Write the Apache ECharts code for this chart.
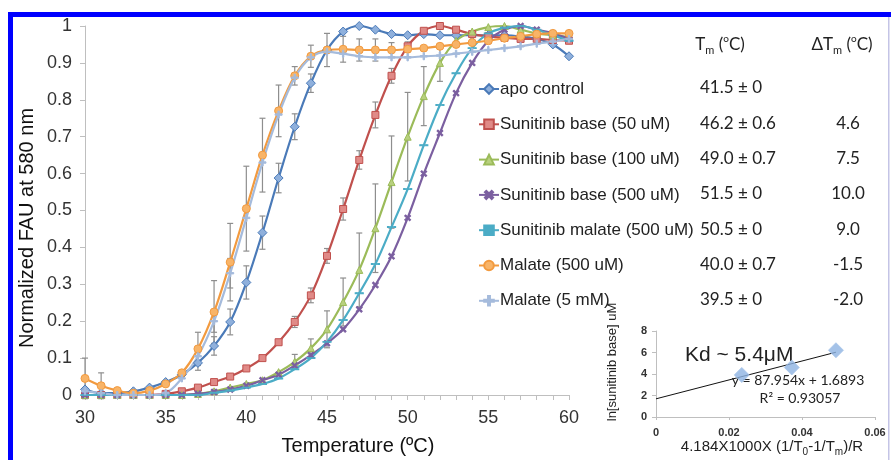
<!DOCTYPE html>
<html>
<head>
<meta charset="utf-8">
<script src="https://cdn.jsdelivr.net/npm/echarts@6/dist/echarts.min.js"></script>
<style>
  html, body { margin: 0; padding: 0; background: #fff; }
  #main { width: 891px; height: 460px; }
</style>
</head>
<body>
<div id="main"></div>
<script>
// temperatures (ºC)
const temps = [30,31,32,33,34,35,36,37,38,39,40,41,42,43,44,45,46,47,48,49,50,51,52,53,54,55,56,57,58,59,60];

// normalized FAU
const apoVals    = [0.015,0.005,0.005,0.01,0.02,0.035,0.055,0.087,0.133,0.198,0.305,0.44,0.588,0.727,0.845,0.935,0.985,1.0,0.99,0.978,0.975,0.978,0.975,0.975,0.975,0.975,0.975,0.972,0.965,0.95,0.918];
const base50     = [0,0,0,0,0,0.003,0.01,0.02,0.035,0.05,0.072,0.1,0.143,0.198,0.27,0.377,0.504,0.637,0.759,0.865,0.945,0.987,1.0,0.99,0.978,0.972,0.968,0.965,0.965,0.962,0.96];
const base100    = [0,0,0,0,0,0,0,0.003,0.01,0.02,0.03,0.04,0.062,0.09,0.127,0.178,0.252,0.339,0.452,0.577,0.70,0.81,0.9,0.96,0.985,0.997,1.0,0.99,0.98,0.975,0.97];
const base500    = [0,0,0,0,0,0,0,0.003,0.008,0.015,0.025,0.04,0.055,0.08,0.108,0.14,0.178,0.232,0.298,0.376,0.48,0.6,0.71,0.818,0.9,0.96,0.99,1.0,0.99,0.98,0.965];
const malate500u = [0,0,0,0,0,0,0,0,0.006,0.012,0.02,0.03,0.045,0.07,0.1,0.144,0.203,0.276,0.355,0.455,0.558,0.677,0.786,0.872,0.94,0.98,0.995,1.0,0.99,0.975,0.96];
const mal500     = [0.045,0.025,0.012,0.005,0.012,0.03,0.06,0.125,0.225,0.36,0.505,0.65,0.77,0.865,0.918,0.935,0.937,0.935,0.935,0.935,0.937,0.94,0.945,0.95,0.955,0.96,0.967,0.972,0.978,0.98,0.98];
const mal5mM     = [0.01,0.005,0,0,0,0.005,0.045,0.105,0.2,0.33,0.48,0.63,0.76,0.86,0.915,0.93,0.925,0.918,0.915,0.915,0.915,0.918,0.92,0.925,0.93,0.935,0.94,0.945,0.952,0.958,0.965];

// error bars (± value, null = none)
const apoErr  = [null,null,null,null,null,null,null,0.02,0.025,0.035,0.045,0.045,0.04,0.035,0.025,null,null,null,null,null,null,null,null,null,null,null,null,null,null,null,null];
const b50Err  = [null,null,null,null,null,null,null,null,null,null,null,null,null,0.015,0.02,0.02,0.03,0.025,0.035,0.02,null,null,null,null,null,null,null,null,null,null,null];
const b100Err = [null,null,null,null,null,null,null,null,null,null,null,null,null,0.02,0.025,0.05,0.065,0.1,0.12,0.125,0.12,0.08,0.05,null,null,null,null,null,null,null,null];
const m500Err = [0.055,0.035,null,null,null,null,null,0.045,0.085,0.105,0.115,0.1,0.07,0.025,0.03,0.045,0.035,0.03,0.03,0.02,0.02,null,null,null,null,null,null,null,null,null,null];
const m5Err   = [null,null,null,null,null,null,null,null,0.03,0.04,null,null,null,null,null,null,null,null,null,null,null,null,null,null,null,null,null,null,null,null,null];

const names = ['apo control','Sunitinib base (50 uM)','Sunitinib base (100 uM)','Sunitinib base (500 uM)','Sunitinib malate (500 uM)','Malate (500 uM)','Malate (5 mM)'];
const tmText  = ['41.5 ± 0','46.2 ± 0.6','49.0 ± 0.7','51.5 ± 0','50.5 ± 0','40.0 ± 0.7','39.5 ± 0'];
const dTmText = ['','4.6','7.5','10.0','9.0','-1.5','-2.0'];

// inset: ln[sunitinib base] vs 4.184x1000x(1/T0-1/Tm)/R
const insetX = [0.0235, 0.0372, 0.0493];
const insetY = [3.91, 4.61, 6.21];
const fitSlope = 87.954;
const fitIntercept = 1.6893;

const plusPath = 'path://M4,0h2v4h4v2h-4v4h-2v-4h-4v-2h4z';
const dashPath = 'path://M0,0h10v2h-10z';

var chart = echarts.init(document.getElementById('main'));

var fontA = 'Liberation Sans, Arial, sans-serif';
var fontC = 'Lato, Carlito, sans-serif';

function mkLine(name, vals, color, symbol, size, fill, extra) {
  return Object.assign({
    name: name,
    type: 'line',
    xAxisIndex: 0,
    yAxisIndex: 0,
    smooth: 0.35,
    clip: false,
    data: temps.map((t, i) => [t, vals[i]]),
    symbol: symbol,
    symbolSize: size,
    showAllSymbol: true,
    lineStyle: { color: color, width: 2.2 },
    itemStyle: { color: fill, borderColor: color, borderWidth: 1 },
    emphasis: { disabled: true },
    z: 3
  }, extra || {});
}

function errData(vals, errs) {
  return temps.map((t, i) => errs[i] == null ? null : [t, vals[i], errs[i]]).filter(d => d);
}

function errRender(params, api) {
  var x = api.value(0), y = api.value(1), e = api.value(2);
  var top = api.coord([x, y + e]);
  var bot = api.coord([x, y - e]);
  var w = 3;
  var st = { stroke: '#8e8e8e', lineWidth: 1.2 };
  return {
    type: 'group',
    children: [
      { type: 'line', shape: { x1: top[0], y1: top[1], x2: bot[0], y2: bot[1] }, style: st },
      { type: 'line', shape: { x1: top[0] - w, y1: top[1], x2: top[0] + w, y2: top[1] }, style: st },
      { type: 'line', shape: { x1: bot[0] - w, y1: bot[1], x2: bot[0] + w, y2: bot[1] }, style: st }
    ]
  };
}

function errSeries(vals, errs) {
  return {
    type: 'custom',
    xAxisIndex: 0,
    yAxisIndex: 0,
    renderItem: errRender,
    data: errData(vals, errs),
    encode: { x: 0, y: 1 },
    clip: false,
    silent: true,
    z: 2
  };
}

// table (Tm / ΔTm) next to the legend
var rowY0 = 88, rowGap = 35.3;
var tableTexts = [];
tmText.forEach(function (t, i) {
  tableTexts.push({ type: 'text', x: 700, y: rowY0 + i * rowGap,
    style: { text: t, font: '17px ' + fontC, fill: '#222', verticalAlign: 'middle' } });
  tableTexts.push({ type: 'text', x: 848, y: rowY0 + i * rowGap,
    style: { text: dTmText[i], font: '17px ' + fontC, fill: '#222', align: 'center', verticalAlign: 'middle' } });
});

var rich = {
  n: { fontSize: 17, fontFamily: fontC, lineHeight: 22, verticalAlign: 'middle', fill: '#222' },
  s: { fontSize: 11, fontFamily: fontC, verticalAlign: 'bottom', fill: '#222' },
  p: { fontSize: 10, fontFamily: fontC, verticalAlign: 'top', fill: '#222' }
};
var rich2 = {
  n: { fontSize: 15, fontFamily: fontA, lineHeight: 20, verticalAlign: 'middle', fill: '#222' },
  s: { fontSize: 10, fontFamily: fontA, verticalAlign: 'bottom', fill: '#222' }
};

var option = {
  backgroundColor: '#fff',
  animation: false,
  grid: [
    { left: 85, right: 322, top: 26, bottom: 65 },
    { left: 656, right: 16, top: 331, bottom: 43 }
  ],
  legend: {
    data: names,
    orient: 'vertical',
    left: 473,
    top: 75,
    itemWidth: 20,
    itemHeight: 12,
    itemGap: 17.3,
    textStyle: { fontFamily: fontA, fontSize: 17, lineHeight: 18, color: '#222', padding: [0, 0, 0, -4] },
    selectedMode: false
  },
  xAxis: [
    {
      type: 'value', gridIndex: 0, min: 30, max: 60, interval: 5,
      axisLine: { show: true, lineStyle: { color: '#bfbfbf', width: 1 } },
      axisTick: { show: true, length: 5, lineStyle: { color: '#bfbfbf' } },
      minorTick: { show: true, splitNumber: 5, length: 5, lineStyle: { color: '#bfbfbf' } },
      splitLine: { show: false },
      axisLabel: { fontFamily: fontA, fontSize: 18, color: '#333', margin: 14 }
    },
    {
      type: 'value', gridIndex: 1, min: 0, max: 0.06, interval: 0.02,
      axisLine: { show: true, lineStyle: { color: '#bfbfbf' } },
      axisTick: { show: true, length: 3, lineStyle: { color: '#bfbfbf' } },
      splitLine: { show: false },
      axisLabel: { fontFamily: fontA, fontSize: 11, fontWeight: 'bold', color: '#333', margin: 10,
        formatter: function (v) { return v === 0 ? '0' : v.toFixed(2); } }
    }
  ],
  yAxis: [
    {
      type: 'value', gridIndex: 0, min: 0, max: 1, interval: 0.1,
      axisLine: { show: true, lineStyle: { color: '#bfbfbf', width: 1 } },
      axisTick: { show: true, length: 5, lineStyle: { color: '#bfbfbf' } },
      splitLine: { show: false },
      axisLabel: { fontFamily: fontA, fontSize: 18, color: '#333', margin: 13,
        formatter: function (v) { return (v === 0 || v === 1) ? String(v) : v.toFixed(1); } }
    },
    {
      type: 'value', gridIndex: 1, min: 0, max: 8, interval: 2,
      axisLine: { show: true, lineStyle: { color: '#bfbfbf' } },
      axisTick: { show: true, length: 4, lineStyle: { color: '#bfbfbf' } },
      splitLine: { show: false },
      axisLabel: { fontFamily: fontA, fontSize: 11, fontWeight: 'bold', color: '#333', margin: 9 }
    }
  ],
  series: [
    errSeries(apoVals, apoErr),
    errSeries(base50, b50Err),
    errSeries(base100, b100Err),
    errSeries(mal500, m500Err),
    errSeries(mal5mM, m5Err),
    mkLine(names[0], apoVals, '#4a7ab8', 'diamond', 9, '#8fb0dc'),
    mkLine(names[1], base50, '#c0504d', 'rect', 7, '#e08a87'),
    mkLine(names[2], base100, '#9bbb59', 'triangle', 7, '#b8d07e'),
    mkLine(names[3], base500, '#7b5fa0', plusPath, 7, '#7b5fa0', { symbolRotate: 45 }),
    mkLine(names[4], malate500u, '#4bacc6', dashPath, [7, 1.5], '#4bacc6'),
    mkLine(names[5], mal500, '#f29a3f', 'circle', 8, '#f8b468'),
    mkLine(names[6], mal5mM, '#a5bbdc', plusPath, 7, '#a5bbdc'),
    {
      type: 'scatter', xAxisIndex: 1, yAxisIndex: 1,
      data: insetX.map((x, i) => [x, insetY[i]]),
      symbol: 'diamond', symbolSize: 15,
      itemStyle: { color: '#8db3e2', borderColor: '#a9c6ea', borderWidth: 1 },
      z: 4
    },
    {
      type: 'line', xAxisIndex: 1, yAxisIndex: 1,
      data: [[0, fitIntercept], [insetX[insetX.length - 1], fitIntercept + fitSlope * insetX[insetX.length - 1]]],
      symbol: 'none',
      lineStyle: { color: '#111', width: 1 },
      z: 3
    }
  ],
  graphic: [
    // blue frame
    { type: 'rect', shape: { x: 8, y: 12, width: 883, height: 5 }, style: { fill: '#0000ff' } },
    { type: 'rect', shape: { x: 8, y: 12, width: 5, height: 448 }, style: { fill: '#0000ff' } },
    { type: 'rect', shape: { x: 888, y: 17, width: 1.5, height: 443 }, style: { fill: '#c4c4e6' } },
    // axis titles
    { type: 'text', x: 27, y: 228, rotation: Math.PI / 2,
      style: { text: 'Normalized FAU at 580 nm', font: '20px ' + fontA, fill: '#111', align: 'center', verticalAlign: 'middle' } },
    { type: 'text', x: 358, y: 446,
      style: { text: 'Temperature (ºC)', font: '20px ' + fontA, fill: '#111', align: 'center', verticalAlign: 'middle' } },
    // table headers
    { type: 'text', x: 720, y: 45,
      style: { text: '{n|T}{s|m}{n| (}{p|o}{n|C)}', rich: rich, align: 'center', verticalAlign: 'middle' } },
    { type: 'text', x: 842, y: 45,
      style: { text: '{n|ΔT}{s|m}{n| (}{p|o}{n|C)}', rich: rich, align: 'center', verticalAlign: 'middle' } }
  ].concat(tableTexts).concat([
    // inset texts
    { type: 'text', x: 612, y: 362, rotation: Math.PI / 2,
      style: { text: 'ln[sunitinib base] uM', font: '13px ' + fontA, fill: '#222', align: 'center', verticalAlign: 'middle' } },
    { type: 'text', x: 772, y: 447,
      style: { text: '{n|4.184X1000X (1/T}{s|0}{n|-1/T}{s|m}{n|)/R}', rich: rich2, align: 'center', verticalAlign: 'middle' } },
    { type: 'text', x: 685, y: 355,
      style: { text: 'Kd ~ 5.4μM', font: '21px ' + fontA, fill: '#222', verticalAlign: 'middle' } },
    { type: 'text', x: 798, y: 380,
      style: { text: 'y = 87.954x + 1.6893', font: '14px ' + fontC, fill: '#222', align: 'center', verticalAlign: 'middle' } },
    { type: 'text', x: 800, y: 398,
      style: { text: 'R² = 0.93057', font: '14px ' + fontC, fill: '#222', align: 'center', verticalAlign: 'middle' } }
  ])
};

chart.setOption(option);
</script>
</body>
</html>
